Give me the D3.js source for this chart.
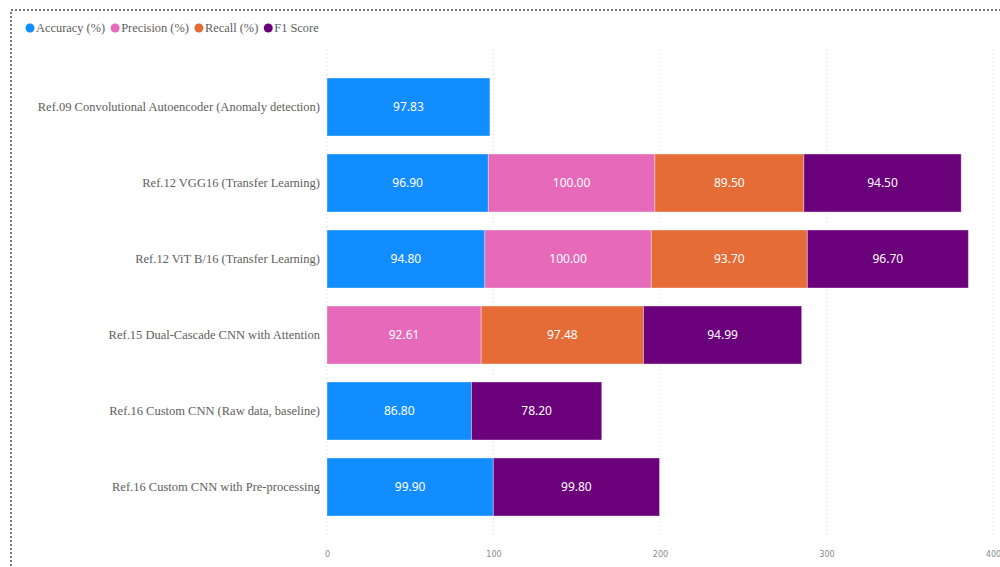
<!DOCTYPE html>
<html>
<head>
<meta charset="utf-8">
<script src="https://cdn.jsdelivr.net/npm/d3@7/dist/d3.min.js"></script>
<style>
  html, body { margin: 0; padding: 0; background: #fff; }
  svg { display: block; }
</style>
</head>
<body>
<svg id="chart" width="1000" height="567"></svg>
<script>
const categories = [
  "Ref.09 Convolutional Autoencoder (Anomaly detection)",
  "Ref.12 VGG16 (Transfer Learning)",
  "Ref.12 ViT B/16 (Transfer Learning)",
  "Ref.15 Dual-Cascade CNN with Attention",
  "Ref.16 Custom CNN (Raw data, baseline)",
  "Ref.16 Custom CNN with Pre-processing"
];
const seriesNames = ["Accuracy (%)", "Precision (%)", "Recall (%)", "F1 Score"];
const accuracy  = [97.83, 96.90, 94.80, null, 86.80, 99.90];
const precision = [null, 100.00, 100.00, 92.61, null, null];
const recall    = [null, 89.50, 93.70, 97.48, null, null];
const f1Score   = [null, 94.50, 96.70, 94.99, 78.20, 99.80];
const xTicks = [0, 100, 200, 300, 400];
const colors = ["#118DFF", "#E66AB9", "#E66C37", "#6B007B"];

const seriesValues = [accuracy, precision, recall, f1Score];
const svg = d3.select("#chart");

// dotted border
svg.append("rect")
  .attr("x", 11).attr("y", 10).attr("width", 1100).attr("height", 700)
  .attr("fill", "none").attr("stroke", "#777").attr("stroke-width", 2)
  .attr("stroke-dasharray", "2,2");

const x = d3.scaleLinear().domain([0, 400]).range([327, 993]);
const y = d3.scaleBand().domain(categories).range([60, 534]).paddingInner(0.237).paddingOuter(0.237);

// gridlines
svg.append("g").selectAll("line").data(xTicks).join("line")
  .attr("x1", d => x(d)).attr("x2", d => x(d))
  .attr("y1", 50).attr("y2", 537)
  .attr("stroke", "#d6d6d6").attr("stroke-width", 1).attr("stroke-dasharray", "1,3");

// x axis
const xAxis = svg.append("g").attr("transform", "translate(0,545)")
  .call(d3.axisBottom(x).tickValues(xTicks).tickSize(0).tickPadding(6));
xAxis.select(".domain").remove();
xAxis.selectAll("text").attr("fill", "#8a8a8a").attr("font-size", 9)
  .attr("font-family", "'DejaVu Sans Condensed','Noto Sans',sans-serif");

// stacked data
const rows = categories.map((c, i) => {
  let acc = 0;
  const segs = [];
  seriesValues.forEach((arr, s) => {
    const v = arr[i];
    if (v != null) {
      segs.push({ cat: c, s, v, x0: acc, x1: acc + v });
      acc += v;
    }
  });
  return segs;
}).flat();

svg.append("g").selectAll("rect").data(rows).join("rect")
  .attr("x", d => x(d.x0))
  .attr("y", d => y(d.cat))
  .attr("width", d => x(d.x1) - x(d.x0))
  .attr("height", y.bandwidth())
  .attr("fill", d => colors[d.s])
  .attr("stroke", "rgba(255,255,255,0.35)").attr("stroke-width", 1);

svg.append("g").selectAll("text").data(rows).join("text")
  .attr("x", d => (x(d.x0) + x(d.x1)) / 2)
  .attr("y", d => y(d.cat) + y.bandwidth() / 2)
  .attr("dy", "0.35em")
  .attr("text-anchor", "middle")
  .attr("fill", "#fff")
  .attr("font-size", 12)
  .attr("font-family", "'Noto Sans','DejaVu Sans',sans-serif")
  .text(d => d.v.toFixed(2));

// y axis labels
const yAxis = svg.append("g").attr("transform", "translate(327,0)")
  .call(d3.axisLeft(y).tickSize(0).tickPadding(7));
yAxis.select(".domain").remove();
yAxis.selectAll("text").attr("fill", "#605E5C").attr("font-size", 12.5)
  .attr("font-family", "'Liberation Serif','Times New Roman',serif");

// legend
const legend = svg.append("g");
let lx = 30;
seriesNames.forEach((name, i) => {
  const g = legend.append("g");
  g.append("circle").attr("cx", lx).attr("cy", 28).attr("r", 4.5).attr("fill", colors[i]);
  const t = g.append("text").attr("x", lx + 6).attr("y", 28).attr("dy", "0.35em")
    .attr("fill", "#605E5C").attr("font-size", 12.4)
    .attr("font-family", "'Liberation Serif','Times New Roman',serif")
    .text(name);
  lx += 6 + t.node().getComputedTextLength() + 10;
});
</script>
</body>
</html>
